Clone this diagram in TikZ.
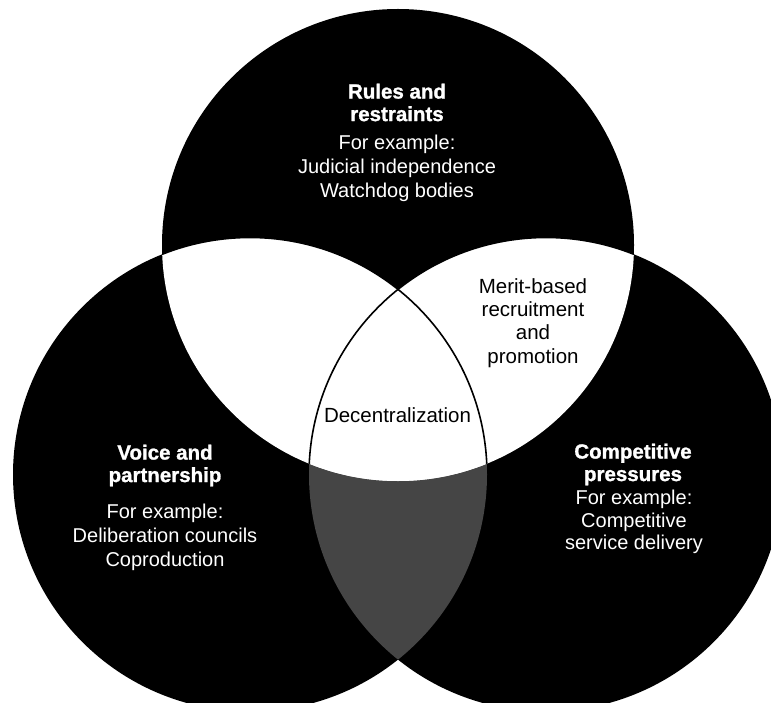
\documentclass[tikz,border=0pt]{standalone}
\usepackage{fontspec}
\setmainfont{Liberation Sans}
\newfontfamily\heavyfont{Liberation Sans Bold}[FakeBold=1.2]
\definecolor{lensgray}{gray}{0.27}
\begin{document}
\begin{tikzpicture}[x=1pt,y=-1pt,
  head/.style={text=white, align=center, inner sep=0pt, font=\fontsize{20.5}{22.5}\selectfont\heavyfont},
  body/.style={text=white, align=center, inner sep=0pt, font=\fontsize{20}{24}\selectfont},
  dark/.style={text=black, align=center, inner sep=0pt, font=\fontsize{20.5}{23.3}\selectfont},
  arcline/.style={draw=black, line width=1.6pt}]
\fill[white] (0,0) rectangle (771,703);
\clip (0,0) rectangle (771,703);
\coordinate (cT) at (398,245);
\coordinate (cL) at (250,474.5);
\coordinate (cR) at (546,474.5);
% three black discs
\fill[black] (cT) circle[radius=236pt];
\fill[black] (cL) circle[radius=237pt];
\fill[black] (cR) circle[radius=237pt];
% grey lens between left and right
\begin{scope}
  \clip (cL) circle[radius=237pt];
  \fill[lensgray] (cR) circle[radius=237pt];
\end{scope}
% white overlaps with the top circle
\begin{scope}
  \clip (cT) circle[radius=236pt];
  \fill[white] (cL) circle[radius=237pt];
  \fill[white] (cR) circle[radius=237pt];
  \draw[arcline] (cL) circle[radius=237pt];
  \draw[arcline] (cR) circle[radius=237pt];
\end{scope}
% texts
\node[head] (rulesH) at (397,102.5) {Rules and\\restraints};
\node[body] (rulesB) at (397,168) {For example:\\Judicial independence\\Watchdog bodies};
\node[head] (voiceH) at (165,465.5) {Voice and\\partnership};
\node[body] (voiceB) at (165,537) {For example:\\Deliberation councils\\Coproduction};
\node[head] (compH) at (633,464.5) {Competitive\\pressures};
\node[body, font=\fontsize{20}{22.5}\selectfont] (compB) at (634,522) {For example:\\Competitive\\service delivery};
\node[dark] (merit) at (533,323) {Merit-based\\recruitment\\and\\promotion};
\node[dark] (decent) at (397.5,415) {Decentralization};
\end{tikzpicture}
\end{document}
